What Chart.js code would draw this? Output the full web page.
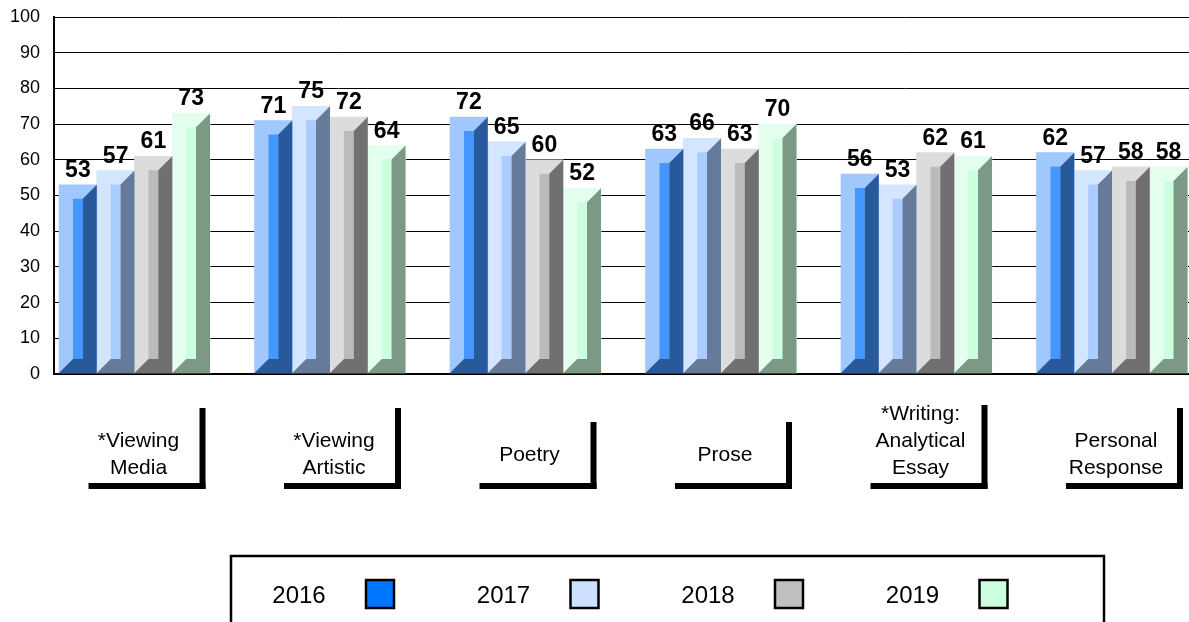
<!DOCTYPE html>
<html><head><meta charset="utf-8">
<script src="https://cdn.jsdelivr.net/npm/chart.js@4.4.1/dist/chart.umd.min.js"></script>
<style>html,body{margin:0;padding:0;background:#fff;overflow:hidden}canvas{display:block}</style>
</head><body>
<canvas id="c" width="1189" height="622"></canvas>
<script>
// ---- data ----
const categories = [["*Viewing","Media"],["*Viewing","Artistic"],["Poetry"],["Prose"],["*Writing:","Analytical","Essay"],["Personal","Response"]];
const seriesNames = ["2016","2017","2018","2019"];
const values2016 = [53,71,72,63,56,62];
const values2017 = [57,75,65,66,53,57];
const values2018 = [61,72,60,63,62,58];
const values2019 = [73,64,52,70,61,58];
const yTicks = [0,10,20,30,40,50,60,70,80,90,100];

// ---- styles ----
const FONT = "'Liberation Sans', Arial, sans-serif";
const frontColors = ['#A0C8FC','#D4E5FF','#DCDCDC','#E4FFEE'];
const midColors   = ['#4696FF','#AACCFF','#BBBBBB','#CCFFDD'];
const darkColors  = ['#285A9B','#667A99','#707070','#7B9985'];
const legendColors= ['#0077FF','#CCE0FF','#C0C0C0','#CCFFDD'];

const seriesValues = [values2016, values2017, values2018, values2019];
const datasets = seriesValues.map((vals, s) => ({
  label: seriesNames[s],
  data: vals.map((v, i) => ({x: i, y: v})),
  backgroundColor: frontColors[s],
  borderWidth: 0,
  barThickness: 37.75
}));

const bevelPlugin = {
  id: 'bevel',
  afterDatasetsDraw(chart) {
    const ctx = chart.ctx;
    ctx.save();
    chart.data.datasets.forEach((ds, s) => {
      const meta = chart.getDatasetMeta(s);
      meta.data.forEach((el) => {
        const p = el.getProps(['x','y','base','width'], true);
        const x0 = p.x - p.width/2, x1 = p.x + p.width/2;
        const w = p.width, d = w*0.37, m = w - 2*d;
        const top = p.y, b = p.base;
        ctx.fillStyle = midColors[s];
        ctx.fillRect(x0+d, top+d, m, (b-d)-(top+d));
        ctx.fillStyle = darkColors[s];
        ctx.beginPath();
        ctx.moveTo(x0+d+m, top+d);
        ctx.lineTo(x1, top);
        ctx.lineTo(x1, b);
        ctx.lineTo(x0, b);
        ctx.lineTo(x0+d, b-d);
        ctx.lineTo(x0+d+m, b-d);
        ctx.closePath();
        ctx.fill();
      });
    });
    // value labels
    ctx.fillStyle = '#000';
    ctx.font = 'bold 23px ' + FONT;
    ctx.textAlign = 'center';
    ctx.textBaseline = 'alphabetic';
    chart.data.datasets.forEach((ds, s) => {
      const meta = chart.getDatasetMeta(s);
      meta.data.forEach((el, i) => {
        const p = el.getProps(['x','y'], true);
        ctx.fillText(String(seriesValues[s][i]), p.x, p.y - 8);
      });
    });
    ctx.restore();
  },
  afterDraw(chart) {
    const ctx = chart.ctx;
    const xs = chart.scales.x;
    ctx.save();
    // category labels with L-shaped frames
    ctx.fillStyle = '#000';
    ctx.font = '21px ' + FONT;
    ctx.textAlign = 'center';
    ctx.textBaseline = 'middle';
    categories.forEach((lines, i) => {
      const cx = xs.getPixelForValue(i) + 4;
      const n = lines.length;
      const cy = n >= 3 ? 441 : 455;
      lines.forEach((t, j) => {
        ctx.fillText(t, cx, cy + (j - (n-1)/2) * 27);
      });
      const left = cx - 50, right = cx + 67;
      const vTop = Math.max(405, 436 - n*14);
      ctx.fillRect(left, 483, right-left, 6);
      ctx.fillRect(right-6, vTop, 6, 489 - vTop);
    });
    // legend box
    ctx.lineWidth = 2.5;
    ctx.strokeStyle = '#000';
    ctx.strokeRect(231, 556, 873, 120);
    ctx.font = '24px ' + FONT;
    chart.data.datasets.forEach((ds, s) => {
      const tx = 299 + 204.5*s;
      ctx.fillStyle = '#000';
      ctx.fillText(ds.label, tx, 596);
      const sx = tx + 81;
      ctx.fillStyle = legendColors[s];
      ctx.fillRect(sx-14, 580, 28, 28);
      ctx.strokeRect(sx-14, 580, 28, 28);
    });
    ctx.restore();
  }
};

new Chart(document.getElementById('c'), {
  type: 'bar',
  data: { datasets },
  options: {
    responsive: false,
    animation: false,
    events: [],
    devicePixelRatio: 1,
    layout: { padding: { top: 17, bottom: 248, left: 0, right: 0 } },
    plugins: { legend: { display: false }, tooltip: { enabled: false } },
    scales: {
      x: { type: 'linear', display: false, min: -0.4118, max: 5.3939, offset: false },
      y: {
        min: 0, max: 100,
        afterBuildTicks: s => { s.ticks = yTicks.map(v => ({value: v})); },
        afterFit: s => { s.width = 54; s.paddingTop = 0; s.paddingBottom = 0; },
        grid: { color: '#000', lineWidth: c => (c.tick && c.tick.value === 0) ? 2 : 1, drawTicks: false },
        border: { color: '#000', width: 2 },
        ticks: { padding: 14, color: '#000', font: { family: FONT, size: 18 } }
      }
    }
  },
  plugins: [bevelPlugin]
});
</script>
</body></html>
